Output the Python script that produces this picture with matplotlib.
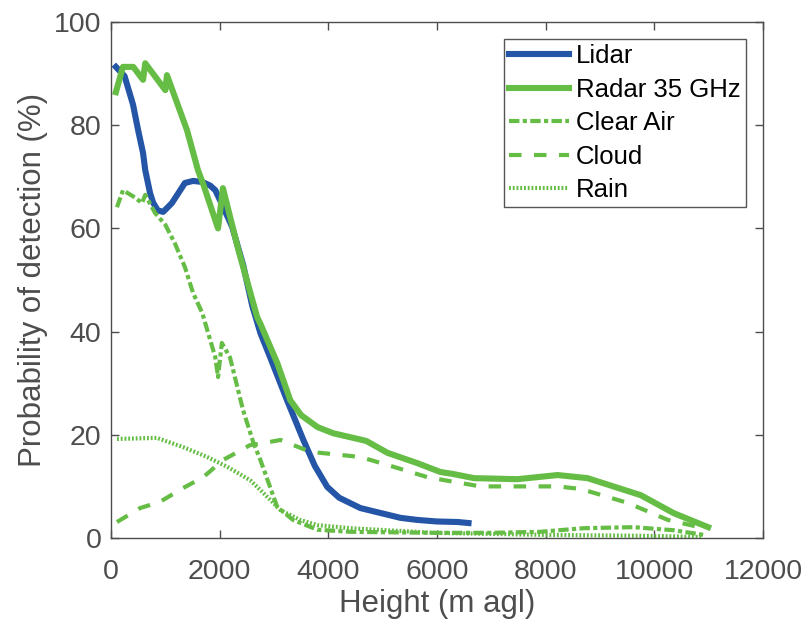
import matplotlib.pyplot as plt

plt.rcParams["font.family"] = ["Liberation Sans", "DejaVu Sans"]

# --- data (height in m agl, probability in %) ---
lidar_h = [90, 250, 405, 500, 590, 630, 720, 775, 860, 960, 1120, 1250, 1360, 1510, 1680,
           1825, 1920, 2050, 2230, 2430, 2600, 2750, 2930, 3240, 3540, 3750, 3980, 4200,
           4590, 4900, 5330, 5640, 6000, 6380, 6580]
lidar_p = [91.3, 89.5, 84, 79, 74.6, 71.3, 66.8, 65, 63.5, 63.2, 64.9, 67, 68.8, 69.2, 69,
           68.3, 67.4, 64.5, 60.3, 53, 45, 39.7, 35, 26.7, 19, 14, 9.9, 7.8,
           5.8, 5, 3.9, 3.5, 3.2, 3.1, 2.9]

radar_h = [90, 220, 410, 590, 630, 1000, 1030, 1400, 1600, 1700, 1970, 2060, 2340,
           2690, 2750, 3060, 3300, 3500, 3800, 4090, 4460, 4700, 5090, 5640, 6060, 6300,
           6680, 7480, 8220, 8770, 9750, 10360, 10990]
radar_p = [86.4, 91.3, 91.3, 88.8, 92, 86.8, 89.7, 79, 71.3, 68.5, 60, 67.8, 56,
           42.8, 41.5, 33.9, 26.7, 23.8, 21.5, 20.3, 19.4, 18.8, 16.5, 14.5, 12.8, 12.4,
           11.6, 11.4, 12.2, 11.6, 8.3, 4.8, 2.1]

clear_h = [110, 220, 440, 570, 630, 810, 1000, 1180, 1360, 1510, 1680, 1920, 1970, 2040,
           2190, 2430, 2620, 2750, 3060, 3350, 3800, 4400, 5940, 7000, 7900, 8700, 9620,
           10360, 10910]
clear_p = [64.1, 67.4, 66, 64.9, 66.5, 63, 60.7, 57, 52.5, 47.5, 43.6, 35, 31.2, 37.8,
           35, 24.8, 18.5, 15.1, 6, 3.5, 1.6, 1.2, 1, 1, 1.2, 1.9, 2.1, 1.5, 0.6]

cloud_h = [110, 535, 900, 1330, 1700, 2060, 2560, 2810, 3120, 3670, 4590, 5200, 5820, 6300,
           6800, 8220, 8650, 9510, 10250, 10910]
cloud_p = [3.1, 5.8, 7, 9.7, 11.8, 15.1, 18, 18.4, 19, 16.7, 15.7, 13.8, 11.8, 10.9,
           10, 10, 9.5, 6.8, 3.5, 1.9]

rain_h = [110, 845, 1330, 1770, 2140, 2560, 2750, 3120, 3480, 3800, 4400, 5940, 8000,
          10000, 10860]
rain_p = [19.2, 19.4, 17.6, 15.7, 13.8, 11.2, 9.3, 5.4, 3.5, 2.5, 1.9, 1, 0.6, 0.4, 0.2]

BLUE = "#2455a6"
GREEN = "#66bd45"
GREY = "#4d4d4d"

fig = plt.figure(figsize=(8.03, 6.23), dpi=100)
ax = fig.add_axes([111 / 803, 1 - 538 / 623, (763 - 111) / 803, (538 - 22) / 623])

kw = dict(solid_joinstyle="round", dash_joinstyle="round")
ax.plot(lidar_h, lidar_p, color=BLUE, lw=4.4, label="Lidar", **kw)
ax.plot(radar_h, radar_p, color=GREEN, lw=4.4, label="Radar 35 GHz", **kw)
ax.plot(clear_h, clear_p, color=GREEN, lw=3.0, ls=(0, (2.5, 0.8, 1.0, 0.8)), label="Clear Air", **kw)
ax.plot(cloud_h, cloud_p, color=GREEN, lw=3.0, ls=(0, (3, 3)), label="Cloud", **kw)
ax.plot(rain_h, rain_p, color=GREEN, lw=3.0, ls=(0, (0.45, 0.45)), label="Rain", **kw)

ax.set_xlim(0, 12000)
ax.set_ylim(0, 100)
ax.set_xticks(range(0, 12001, 2000))
ax.set_yticks(range(0, 101, 20))
ax.tick_params(direction="in", top=True, right=True, labelsize=20.5, colors=GREY,
               length=6, width=1, pad=7)
ax.tick_params(axis="x", pad=15)
for sp in ax.spines.values():
    sp.set_color(GREY)
    sp.set_linewidth(1)
ax.set_xlabel("Height (m agl)", fontsize=22.5, color=GREY, labelpad=3)
ax.set_ylabel("Probability of detection (%)", fontsize=22.5, color=GREY, labelpad=4)

# legend frame top-right corner sits at pixel (746, 39) in the reference
leg = ax.legend(loc="upper right", bbox_to_anchor=(746 / 803, 1 - 39 / 623),
                bbox_transform=fig.transFigure, fontsize=18.5,
                handlelength=2.35, handletextpad=0.27, labelspacing=0.37, borderpad=0.2,
                borderaxespad=0, fancybox=False, framealpha=1, edgecolor="#555555")
leg.get_frame().set_linewidth(1)

fig.savefig("out.png", dpi=100)
